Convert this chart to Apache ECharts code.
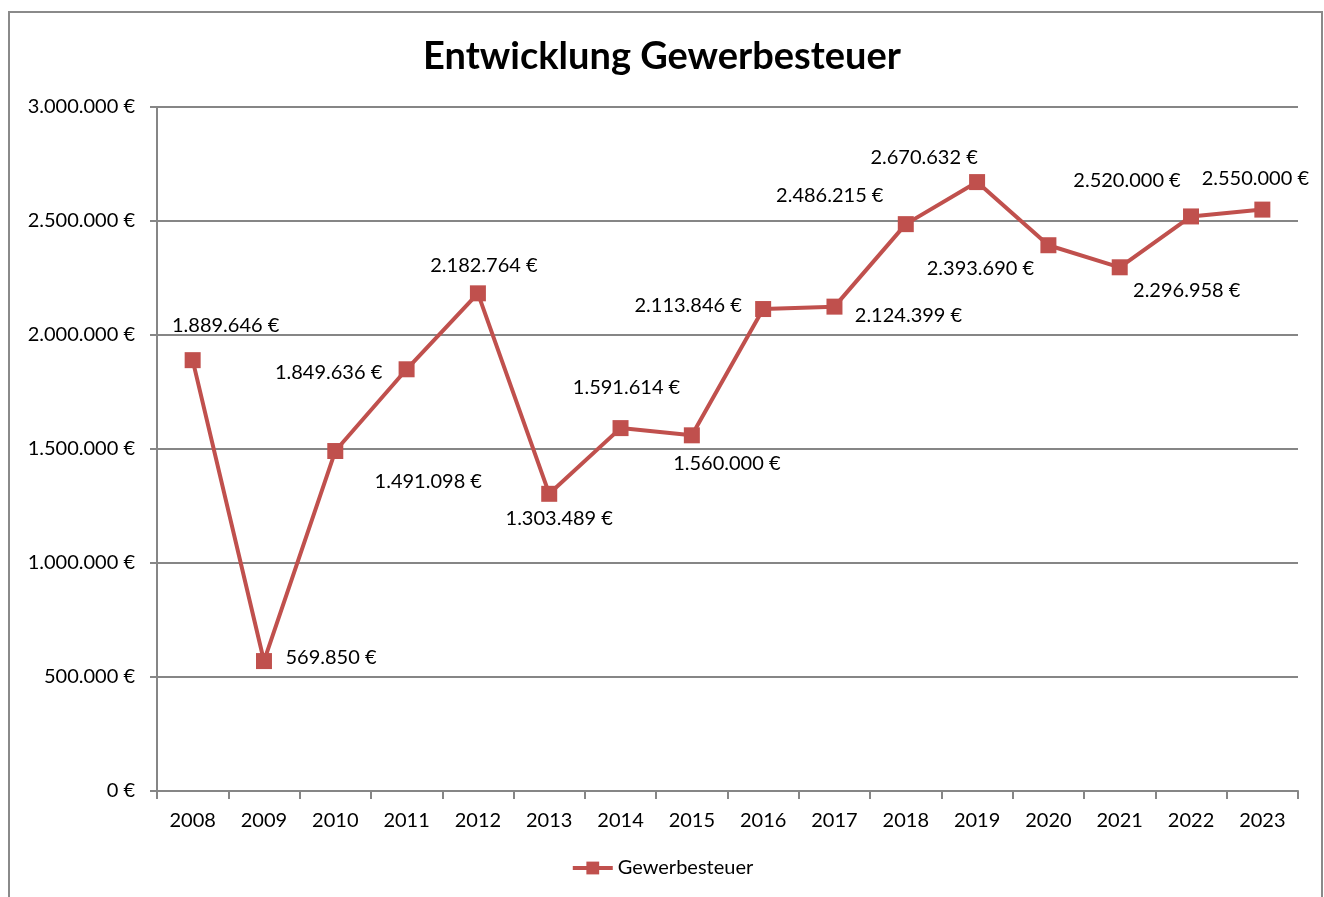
<!DOCTYPE html>
<html><head><meta charset="utf-8">
<script src="https://cdn.jsdelivr.net/npm/echarts@6/dist/echarts.min.js"></script>
<style>html,body{margin:0;padding:0;background:#fff}#c{width:1324px;height:897px}</style>
</head><body><div id="c"></div>
<script>
const categories = ['2008','2009','2010','2011','2012','2013','2014','2015','2016','2017','2018','2019','2020','2021','2022','2023'];
const values = [1889646,569850,1491098,1849636,2182764,1303489,1591614,1560000,2113846,2124399,2486215,2670632,2393690,2296958,2520000,2550000];
const yTicks = [0,500000,1000000,1500000,2000000,2500000,3000000];
const seriesName = 'Gewerbesteuer';
const titleText = 'Entwicklung Gewerbesteuer';
// label centre offsets relative to the marker [dx, dy]
const labelOffsets = [[33,-35],[67,-4],[93,31],[-78,3],[6,-28],[10,25],[6,-41],[35,28],[-75,-3],[74,9],[-76,-29],[-53,-25],[-68,23],[67,23],[-64,-36],[-7,-31]];

function fmt(v){
  return String(Math.round(v)).replace(/\B(?=(\d{3})+(?!\d))/g,'.') + ' €';
}
const FONT = 'Lato';
const FS = 20;
const chart = echarts.init(document.getElementById('c'));
chart.setOption({
  animation:false,
  backgroundColor:'#fff',
  title:{text:titleText,left:'center',top:33,textStyle:{fontFamily:FONT,fontWeight:'bold',fontSize:38,color:'#000'}},
  graphic:[{type:'rect',shape:{x:9,y:12,width:1313,height:900},style:{fill:'none',stroke:'#8a8a8a',lineWidth:2},silent:true}],
  grid:{left:157,right:26,top:107,bottom:106},
  legend:{bottom:14,left:'center',itemWidth:40,itemHeight:16,itemGap:12,
    lineStyle:{width:4,color:'#C0504D'},
    textStyle:{fontFamily:FONT,fontSize:FS,color:'#000'},data:[{name:seriesName}]},
  xAxis:{type:'category',data:categories,boundaryGap:true,
    axisLine:{lineStyle:{color:'#868686',width:2}},
    axisTick:{show:true,length:8,lineStyle:{color:'#868686',width:2},alignWithLabel:false},
    axisLabel:{fontFamily:FONT,fontSize:FS,color:'#000',margin:20}},
  yAxis:{type:'value',min:yTicks[0],max:yTicks[yTicks.length-1],interval:yTicks[1]-yTicks[0],
    axisLine:{show:true,lineStyle:{color:'#868686',width:2}},
    axisTick:{show:true,length:7,lineStyle:{color:'#868686',width:2}},
    splitLine:{lineStyle:{color:'#868686',width:2}},
    axisLabel:{fontFamily:FONT,fontSize:FS,color:'#000',margin:22,formatter:fmt}},
  series:[{name:seriesName,type:'line',data:values.map((v,i)=>({value:v,label:{offset:labelOffsets[i]}})),
    symbol:'rect',symbolSize:16,
    lineStyle:{color:'#C0504D',width:4},
    itemStyle:{color:'#C0504D'},
    label:{show:true,position:'inside',fontFamily:FONT,fontSize:FS,color:'#000',formatter:p=>fmt(p.value)}}]
});
</script></body></html>
